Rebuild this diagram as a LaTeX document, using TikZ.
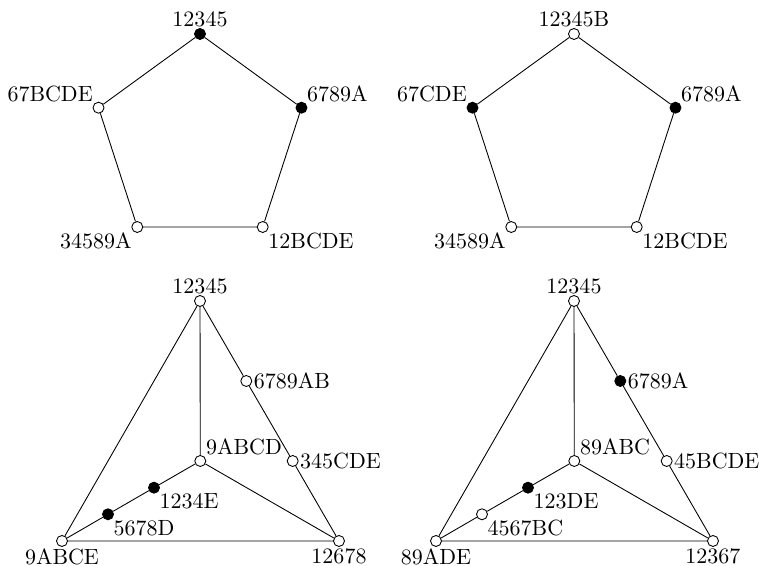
\documentclass[tikz,border=0pt]{standalone}
\begin{document}
\begin{tikzpicture}[x=0.4545pt,y=0.4545pt,
		emptyvertex/.style={circle,draw,fill=white,inner sep=0pt,minimum size=5pt},
		filledvertex/.style={circle,draw,fill=black,inner sep=0pt,minimum size=5pt},
		every label/.style={inner sep=0.5pt}]
		\useasboundingbox (0,0) rectangle (759,566);
		%Pentagon on the left
		\foreach \i in {0,...,4} {
			\coordinate (pl\i) at ([shift={(200,425.3)}]90+72*\i:106.7);
		}
		\node [filledvertex,label=above:12345] (pla) at (pl0) {};
		\node [emptyvertex,label=above left:67BCDE] (plb) at (pl1) {};
		\node [emptyvertex,label=below left:34589A] (plc) at (pl2) {};
		\node [emptyvertex,label=below right:12BCDE] (pld) at (pl3) {};
		\node [filledvertex,label=above right:6789A] (ple) at (pl4) {};
		\draw (pla) -- (plb) -- (plc) -- (pld) -- (ple) -- (pla);
		%Pentagon on the right
		\foreach \i in {0,...,4} {
			\coordinate (pr\i) at ([shift={(574,425.3)}]90+72*\i:106.7);
		}
		\node [emptyvertex,label=above:12345B] (pra) at (pr0) {};
		\node [filledvertex,label=above left:67CDE] (prb) at (pr1) {};
		\node [emptyvertex,label=below left:34589A] (prc) at (pr2) {};
		\node [emptyvertex,label=below right:12BCDE] (prd) at (pr3) {};
		\node [filledvertex,label=above right:6789A] (pre) at (pr4) {};
		\draw (pra) -- (prb) -- (prc) -- (prd) -- (pre) -- (pra);
		%Triangle on the left
		\coordinate (tlTop) at (200,265);
		\coordinate (tlLeft) at (62,25);
		\coordinate (tlRight) at (339,25);
		\coordinate (tlMid) at (200.3,105);
		\coordinate (tlSide1) at (246.3,185);
		\coordinate (tlSide2) at (292.7,105);
		\coordinate (tlIn1) at (154,78.3);
		\coordinate (tlIn2) at (108,51.7);
		\node [emptyvertex,label=above:12345] (tla) at (tlTop) {};
		\node [emptyvertex,label=below:9ABCE] (tlb) at (tlLeft) {};
		\node [emptyvertex,label=below:12678] (tlc) at (tlRight) {};
		\node [emptyvertex,label=above right:9ABCD] (tld) at (tlMid) {};
		\node [emptyvertex,label=right:6789AB] (tle) at (tlSide1) {};
		\node [emptyvertex,label=right:345CDE] (tlf) at (tlSide2) {};
		\node [filledvertex,label=below right:1234E] (tlg) at (tlIn1) {};
		\node [filledvertex,label=below right:5678D] (tlh) at (tlIn2) {};
		\draw (tla) -- (tlb) -- (tlc);
		\draw (tla) -- (tle) -- (tlf) -- (tlc);
		\draw (tla) -- (tld) -- (tlc);
		\draw (tld) -- (tlg) -- (tlh) -- (tlb);
		%Triangle on the right
		\coordinate (trTop) at (574,265);
		\coordinate (trLeft) at (436,25);
		\coordinate (trRight) at (713,25);
		\coordinate (trMid) at (574.3,105);
		\coordinate (trSide1) at (620.3,185);
		\coordinate (trSide2) at (666.7,105);
		\coordinate (trIn1) at (528,78.3);
		\coordinate (trIn2) at (482,51.7);
		\node [emptyvertex,label=above:12345] (tra) at (trTop) {};
		\node [emptyvertex,label=below:89ADE] (trb) at (trLeft) {};
		\node [emptyvertex,label=below:12367] (trc) at (trRight) {};
		\node [emptyvertex,label=above right:89ABC] (trd) at (trMid) {};
		\node [filledvertex,label=right:6789A] (tre) at (trSide1) {};
		\node [emptyvertex,label=right:45BCDE] (trf) at (trSide2) {};
		\node [filledvertex,label=below right:123DE] (trg) at (trIn1) {};
		\node [emptyvertex,label=below right:4567BC] (trh) at (trIn2) {};
		\draw (tra) -- (trb) -- (trc);
		\draw (tra) -- (tre) -- (trf) -- (trc);
		\draw (tra) -- (trd) -- (trc);
		\draw (trd) -- (trg) -- (trh) -- (trb);
\end{tikzpicture}
\end{document}
